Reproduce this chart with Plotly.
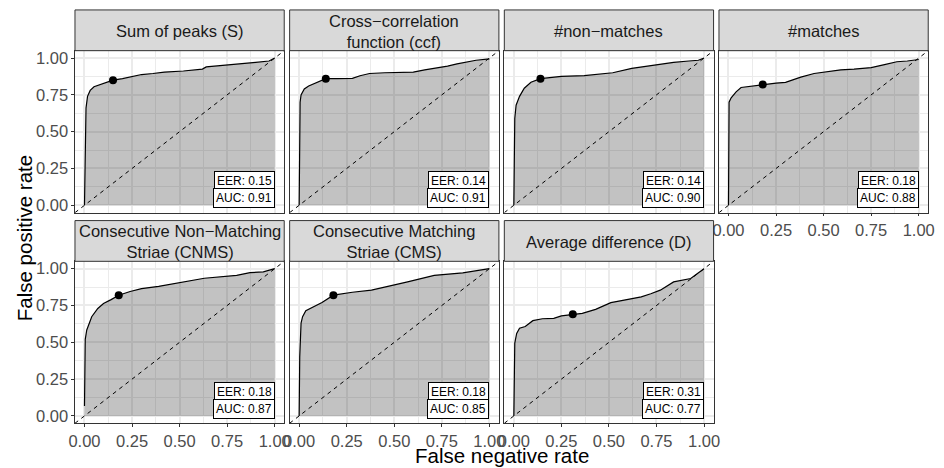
import plotly.graph_objects as go

# ---- data -------------------------------------------------------------
titles = [
    "Sum of peaks (S)",
    "Cross−correlation<br>function (ccf)",
    "#non−matches",
    "#matches",
    "Consecutive Non−Matching<br>Striae (CNMS)",
    "Consecutive Matching<br>Striae (CMS)",
    "Average difference (D)",
]
eer = [0.15, 0.14, 0.14, 0.18, 0.18, 0.18, 0.31]
auc = [0.91, 0.91, 0.90, 0.88, 0.87, 0.85, 0.77]

tick_vals = [0, 0.25, 0.5, 0.75, 1.0]
tick_text = ["0.00", "0.25", "0.50", "0.75", "1.00"]
minor_vals = [0.125, 0.375, 0.625, 0.875]

s_fnr = [0, 0.003, 0.005, 0.008, 0.016, 0.03, 0.05, 0.08, 0.11, 0.15, 0.20, 0.25,
         0.30, 0.36, 0.42, 0.52, 0.62, 0.64, 0.72, 0.80, 0.90, 0.97, 1.0]
s_fpr = [0, 0.25, 0.55, 0.66, 0.74, 0.78, 0.805, 0.82, 0.835, 0.85, 0.86, 0.872,
         0.888, 0.895, 0.905, 0.912, 0.925, 0.94, 0.948, 0.958, 0.97, 0.98, 1.0]

ccf_fnr = [0, 0.003, 0.005, 0.01, 0.027, 0.05, 0.087, 0.14, 0.20, 0.28, 0.32, 0.37,
           0.45, 0.60, 0.66, 0.72, 0.78, 0.83, 0.88, 0.93, 1.0]
ccf_fpr = [0, 0.40, 0.70, 0.75, 0.79, 0.81, 0.83, 0.86, 0.86, 0.862, 0.88, 0.895,
           0.90, 0.905, 0.92, 0.93, 0.945, 0.96, 0.975, 0.985, 0.995]

nm_fnr = [0, 0.002, 0.005, 0.012, 0.03, 0.055, 0.09, 0.14, 0.25, 0.37, 0.45, 0.52,
          0.62, 0.70, 0.77, 0.80, 0.84, 0.92, 0.97, 1.0]
nm_fpr = [0, 0.40, 0.59, 0.68, 0.74, 0.795, 0.836, 0.86, 0.875, 0.88, 0.89, 0.90,
          0.93, 0.945, 0.953, 0.96, 0.97, 0.98, 0.985, 1.0]

m_fnr = [0, 0.0, 0.003, 0.014, 0.04, 0.066, 0.12, 0.18, 0.25, 0.30, 0.38, 0.45,
         0.52, 0.59, 0.66, 0.75, 0.82, 0.885, 0.94, 1.0]
m_fpr = [0, 0.50, 0.70, 0.73, 0.77, 0.80, 0.81, 0.82, 0.83, 0.835, 0.87, 0.895,
         0.91, 0.92, 0.925, 0.935, 0.955, 0.975, 0.98, 0.99]

cnms_fnr = [0, 0.002, 0.004, 0.012, 0.038, 0.07, 0.10, 0.14, 0.18, 0.24, 0.30, 0.39,
            0.51, 0.63, 0.80, 0.87, 0.94, 1.0]
cnms_fpr = [0.067, 0.30, 0.52, 0.584, 0.674, 0.73, 0.764, 0.79, 0.82, 0.845, 0.865, 0.88,
            0.91, 0.935, 0.955, 0.973, 0.978, 1.0]

cms_fnr = [0, 0.003, 0.01, 0.018, 0.035, 0.087, 0.12, 0.18, 0.28, 0.38, 0.47, 0.57,
           0.71, 0.86, 1.0]
cms_fpr = [0, 0.40, 0.63, 0.674, 0.715, 0.746, 0.77, 0.82, 0.84, 0.854, 0.88, 0.91,
           0.955, 0.971, 1.0]

d_fnr = [0, 0.002, 0.005, 0.015, 0.03, 0.06, 0.10, 0.15, 0.21, 0.25, 0.31, 0.36,
         0.43, 0.51, 0.58, 0.67, 0.72, 0.77, 0.84, 0.93, 0.96, 1.0]
d_fpr = [0, 0.30, 0.494, 0.56, 0.596, 0.607, 0.647, 0.66, 0.663, 0.679, 0.69, 0.697,
         0.724, 0.769, 0.787, 0.809, 0.83, 0.854, 0.91, 0.933, 0.962, 1.0]

curves_x = [s_fnr, ccf_fnr, nm_fnr, m_fnr, cnms_fnr, cms_fnr, d_fnr]
curves_y = [s_fpr, ccf_fpr, nm_fpr, m_fpr, cnms_fpr, cms_fpr, d_fpr]

# ---- layout geometry (pixels) ----------------------------------------
W, H = 944, 468
col_left = [69, 286.9, 504.8, 722.7]
panel_w = 212.4
strip_top = [8, 220]
panel_top = [49, 261]
panel_bot = [212, 424]
axis_range = [-0.05, 1.05]

FONT = "Liberation Sans"
GRID = "#ebebeb"
BORDER = "#333333"


def fx(px):
    return px / W


def fy(py):
    return 1 - py / H


fig = go.Figure()
layout = dict(
    width=W, height=H,
    margin=dict(l=0, r=0, t=0, b=0),
    paper_bgcolor="white", plot_bgcolor="white",
    showlegend=False,
    font=dict(family=FONT),
)
shapes = []
annotations = []

for i in range(7):
    r, c = divmod(i, 4)
    suf = "" if i == 0 else str(i + 1)
    xa, ya = "x" + suf, "y" + suf
    l = col_left[c]
    show_x = i in (3, 4, 5, 6)
    show_y = i in (0, 4)

    common = dict(
        range=axis_range, tickvals=tick_vals, ticktext=tick_text,
        showgrid=True, gridcolor=GRID, gridwidth=1.6, zeroline=False,
        showline=True, linecolor=BORDER, linewidth=1, mirror=True,
        minor=dict(tickvals=minor_vals, showgrid=True, gridcolor=GRID, gridwidth=0.8),
        tickfont=dict(family=FONT, size=16.5, color="#4d4d4d"),
        tickcolor=BORDER, ticklen=2.5, tickwidth=1, fixedrange=True,
    )
    layout["xaxis" + suf] = dict(
        common, domain=[fx(l), fx(l + panel_w)], anchor=ya,
        showticklabels=show_x, ticks="outside" if show_x else "",
    )
    layout["yaxis" + suf] = dict(
        common, domain=[fy(panel_bot[r]), fy(panel_top[r])], anchor=xa,
        showticklabels=show_y, ticks="outside" if show_y else "",
    )

    # area under the curve
    fig.add_trace(go.Scatter(
        x=curves_x[i], y=curves_y[i], xaxis=xa, yaxis=ya, mode="lines",
        fill="tozeroy", fillcolor="rgba(0,0,0,0.24)", line=dict(width=0),
        hoverinfo="skip",
    ))
    # reference diagonal
    fig.add_trace(go.Scatter(
        x=axis_range, y=axis_range, xaxis=xa, yaxis=ya, mode="lines",
        line=dict(color="black", width=1, dash="4px,4px"), hoverinfo="skip",
    ))
    # ROC curve
    fig.add_trace(go.Scatter(
        x=curves_x[i], y=curves_y[i], xaxis=xa, yaxis=ya, mode="lines",
        line=dict(color="black", width=1.2),
    ))
    # equal error rate point
    fig.add_trace(go.Scatter(
        x=[eer[i]], y=[1 - eer[i]], xaxis=xa, yaxis=ya, mode="markers",
        marker=dict(color="black", size=8),
    ))

    for txt, yv in ((f"EER: {eer[i]:.2f}", 0.165), (f"AUC: {auc[i]:.2f}", 0.048)):
        annotations.append(dict(
            text=txt, x=1.0, y=yv, xref=xa, yref=ya,
            xanchor="right", yanchor="middle", showarrow=False,
            bgcolor="white", bordercolor="black", borderwidth=1, borderpad=2,
            font=dict(family=FONT, size=12, color="black"),
        ))

    # facet strip
    shapes.append(dict(
        type="rect", xref="paper", yref="paper",
        x0=fx(l), x1=fx(l + panel_w), y0=fy(panel_top[r]), y1=fy(strip_top[r]),
        fillcolor="#d9d9d9", line=dict(color=BORDER, width=1), layer="above",
    ))
    annotations.append(dict(
        text=titles[i], xref="paper", yref="paper",
        x=fx(l + panel_w / 2), y=fy((strip_top[r] + panel_top[r]) / 2 + 1),
        xanchor="center", yanchor="middle", showarrow=False,
        font=dict(family=FONT, size=16.5, color="#1a1a1a"),
    ))

annotations.append(dict(
    text="False negative rate", xref="paper", yref="paper",
    x=fx(502), y=fy(456), xanchor="center", yanchor="middle", showarrow=False,
    font=dict(family=FONT, size=20.5, color="black"),
))
annotations.append(dict(
    text="False positive rate", xref="paper", yref="paper",
    x=fx(18), y=fy(238), xanchor="center", yanchor="middle", showarrow=False,
    textangle=-90, font=dict(family=FONT, size=20.5, color="black"),
))

layout["shapes"] = shapes
layout["annotations"] = annotations
fig.update_layout(**layout)
fig.write_html("out.html")
